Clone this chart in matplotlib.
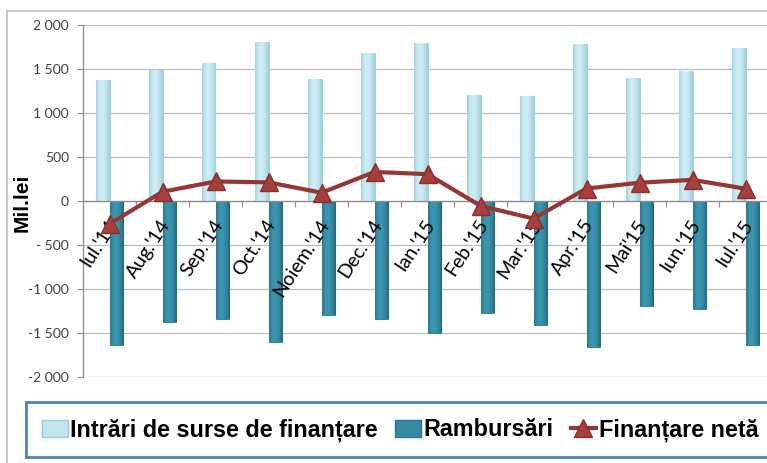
import numpy as np
import matplotlib
matplotlib.use("Agg")
import matplotlib.pyplot as plt
from matplotlib.colors import LinearSegmentedColormap
from matplotlib.lines import Line2D
from matplotlib.patches import Patch, Rectangle

# ---------------- data ----------------
categories = ["Iul.'14", "Aug.'14", "Sep.'14", "Oct.'14", "Noiem.'14", "Dec.'14",
              "Ian.'15", "Feb.'15", "Mar.'15", "Apr.'15", "Mai'15", "Iun.'15", "Iul.'15"]
intrari = [1375, 1485, 1568, 1810, 1390, 1678, 1800, 1208, 1193, 1788, 1394, 1474, 1742]
rambursari = [-1636, -1375, -1345, -1599, -1299, -1337, -1504, -1269, -1405, -1655, -1189, -1231, -1633]
finantare_neta = [-260, 105, 222, 212, 94, 330, 305, -55, -200, 142, 208, 240, 140]
yticks = [-2000, -1500, -1000, -500, 0, 500, 1000, 1500, 2000]
yticklabels = ["-2 000", "-1 500", "-1 000", "- 500", "0", "500", "1 000", "1 500", "2 000"]
series_names = ["Intrări de surse de finanțare", "Rambursări", "Finanțare netă"]

W, H = 767, 463
fig = plt.figure(figsize=(W / 100, H / 100), dpi=100)
fig.patch.set_facecolor("white")

# axes in pixel coordinates
x0p, x1p = 83, 772
ytop, ybot = 25, 377
ax = fig.add_axes([x0p / W, (H - ybot) / H, (x1p - x0p) / W, (ybot - ytop) / H])
ax.set_facecolor("none")

x = np.arange(len(categories))
bw = 0.264

light_c = "#B7DEE8"
dark_c = "#31859C"
bars1 = ax.bar(x - bw / 2, intrari, width=bw, color=light_c, edgecolor="#9CCBD8",
               linewidth=0.6, zorder=2)
bars2 = ax.bar(x + bw / 2, rambursari, width=bw, color=dark_c, edgecolor="#2A7890",
               linewidth=0.6, zorder=2)

def shade(bars, cols):
    cmap = LinearSegmentedColormap.from_list("c", cols)
    grad = np.linspace(0, 1, 64).reshape(1, -1)
    for b in bars:
        bx, by = b.get_xy()
        w, h = b.get_width(), b.get_height()
        im = ax.imshow(grad, extent=[bx, bx + w, by, by + h], cmap=cmap, aspect="auto",
                       zorder=2.1, interpolation="bicubic", origin="lower")
        im.set_clip_path(b)

shade(bars1, ["#A2D3E0", "#C9EAF2", "#D0EDF4", "#BEE3EC", "#9CCEDB"])
shade(bars2, ["#2A7890", "#3A93AC", "#3C95AE", "#33879F", "#236679"])

ax.plot(x, finantare_neta, color="#953735", linewidth=3, zorder=5,
        marker="^", markersize=13, markerfacecolor="#A5403D", markeredgecolor="#8A2F2C",
        markeredgewidth=1)

ax.set_xlim(-0.5, -0.5 + (x1p - x0p) / 53.0)
ax.set_ylim(-2000, 2000)

ax.set_yticks(yticks)
ax.set_yticklabels(yticklabels, fontfamily="Lato", fontsize=10, color="#404040")
ax.tick_params(axis="y", direction="out", length=4, width=0.8, color="#8C8C8C", pad=6)
ax.grid(axis="y", color="#BDBDBD", linewidth=0.9, zorder=0)
ax.set_axisbelow(True)

ax.spines["top"].set_visible(False)
ax.spines["right"].set_visible(False)
ax.spines["left"].set_color("#8C8C8C")
ax.spines["left"].set_linewidth(0.9)
ax.spines["bottom"].set_position(("data", 0))
ax.spines["bottom"].set_color("#8C8C8C")
ax.spines["bottom"].set_linewidth(0.9)
ax.set_xticks(np.arange(len(categories) + 1) - 0.5)
ax.set_xticklabels([])
ax.tick_params(axis="x", direction="out", length=4, width=0.8, color="#8C8C8C")

for i, lab in enumerate(categories):
    ax.text(i + 0.07, -230, lab, rotation=57, ha="right", va="center",
            rotation_mode="anchor", fontfamily="Lato", fontsize=14, color="black",
            zorder=4)

fig.text(22 / W, 1 - 203 / H, "Mil.lei", rotation=90, ha="center", va="center",
         fontfamily="Liberation Sans", fontweight="bold", fontsize=15)

# outer chart border
fig.add_artist(Line2D([7 / W, 1.0], [1 - 11 / H, 1 - 11 / H], color="#BFBFBF", linewidth=1.2))
fig.add_artist(Line2D([7 / W, 7 / W], [1 - 11 / H, 0], color="#BFBFBF", linewidth=1.2))

# legend frame
fig.add_artist(Rectangle((26 / W, 1 - 457 / H), (780 - 26) / W, (457 - 402) / H,
                         transform=fig.transFigure, facecolor="white",
                         edgecolor="#4F81BD", linewidth=2, zorder=1))

handles = [Patch(facecolor="#C2E5EE", edgecolor="#9CCBD8"),
           Patch(facecolor="#3589A1", edgecolor="#2A7890"),
           Line2D([0], [0], color="#953735", linewidth=3, marker="^", markersize=13,
                  markerfacecolor="#A5403D", markeredgecolor="#8A2F2C")]
leg = fig.legend(handles, series_names, loc="center left",
                 bbox_to_anchor=(42 / W, 1 - 430 / H), ncol=3, frameon=False,
                 prop={"family": "Liberation Sans", "weight": "bold", "size": 16.8},
                 handlelength=1.1, handleheight=0.75, handletextpad=0.1,
                 columnspacing=0.75, borderaxespad=0, borderpad=0)
leg.set_zorder(3)

fig.savefig("out.png", dpi=100, facecolor="white")
